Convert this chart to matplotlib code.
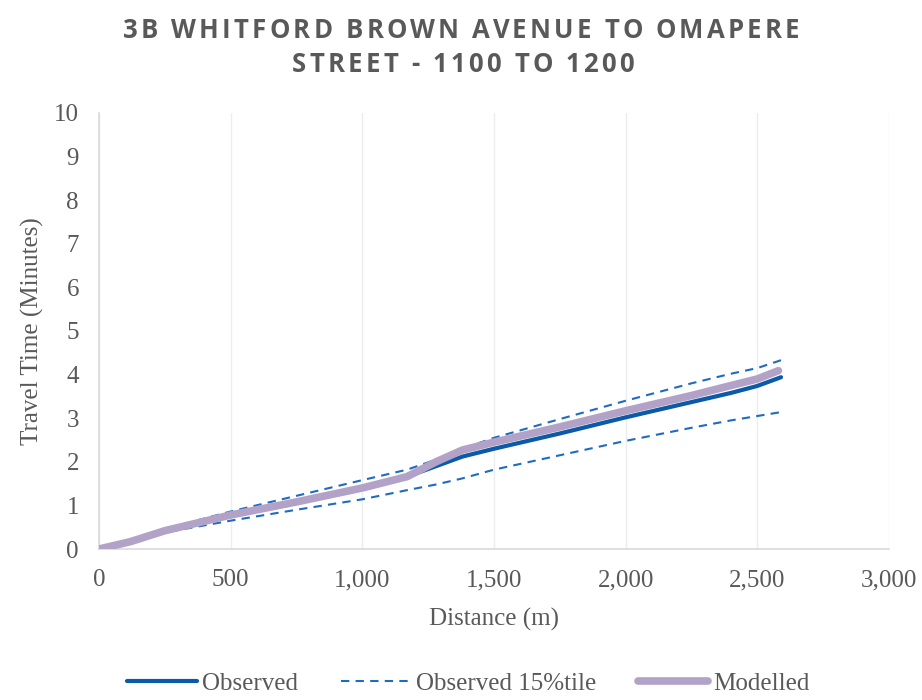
import matplotlib
matplotlib.use("Agg")
import matplotlib.pyplot as plt
from matplotlib.ticker import FuncFormatter
from matplotlib.font_manager import FontProperties

# Data
dist = [0, 120, 250, 500, 750, 1000, 1170, 1280, 1380, 1500, 1750, 2000, 2250, 2400, 2500, 2590]
observed = [0, 0.17, 0.42, 0.78, 1.08, 1.40, 1.66, 1.90, 2.12, 2.30, 2.65, 3.02, 3.37, 3.58, 3.74, 3.94]
obs15_upper = [0, 0.18, 0.46, 0.86, 1.22, 1.58, 1.82, 2.05, 2.30, 2.55, 2.98, 3.40, 3.80, 4.02, 4.15, 4.33]
obs15_lower = [0, 0.16, 0.38, 0.65, 0.90, 1.14, 1.35, 1.48, 1.62, 1.82, 2.15, 2.48, 2.78, 2.95, 3.05, 3.14]
dist_mod = [0, 120, 250, 500, 750, 1000, 1170, 1280, 1380, 1500, 1750, 2000, 2250, 2400, 2500, 2580]
modelled = [0, 0.17, 0.42, 0.78, 1.08, 1.40, 1.66, 2.00, 2.27, 2.45, 2.80, 3.17, 3.52, 3.75, 3.90, 4.09]

title_lines = ["3B WHITFORD BROWN AVENUE TO OMAPERE", "STREET - 1100 TO 1200"]
xlabel = "Distance (m)"
ylabel = "Travel Time (Minutes)"

W, H = 922, 700
fig = plt.figure(figsize=(W / 100, H / 100), dpi=100)
ax = fig.add_axes([0.1074, 0.2157, 0.8568, 0.6229])

serif = ["Liberation Serif", "DejaVu Serif"]
txtcol = "#595959"
fs = 18

ax.plot(dist, obs15_upper, color="#1F6BBF", lw=1.5, ls=(0, (4, 3)), zorder=3)
l2, = ax.plot(dist, obs15_lower, color="#1F6BBF", lw=1.5, ls=(0, (4, 3)), zorder=3, label="Observed 15%tile")
l1, = ax.plot(dist, observed, color="#0B5AA8", lw=3, solid_capstyle="round", zorder=4, label="Observed")
l3, = ax.plot(dist_mod, modelled, color="#B3A2C7", lw=5.5, solid_capstyle="round", zorder=5, label="Modelled")

ax.set_xlim(0, 3000)
ax.set_ylim(0, 10)
ax.set_xticks(range(0, 3001, 500))
ax.set_yticks(range(0, 11))
ax.xaxis.set_major_formatter(FuncFormatter(lambda v, p: f"{int(v):,}"))
ax.grid(axis="x", color="#EDEDED", lw=1)
ax.set_axisbelow(True)
for s in ["top", "right"]:
    ax.spines[s].set_visible(False)
for s in ["left", "bottom"]:
    ax.spines[s].set_color("#D9D9D9")
    ax.spines[s].set_linewidth(1.2)
ax.tick_params(length=0, labelsize=fs, labelcolor=txtcol)
ax.tick_params(axis="x", pad=14.5)
ax.tick_params(axis="y", pad=14.5)
for lab in ax.get_xticklabels() + ax.get_yticklabels():
    lab.set_family(serif)

ax.set_xlabel(xlabel, family=serif, fontsize=fs, color=txtcol, labelpad=12)
ax.set_ylabel(ylabel, family=serif, fontsize=fs, color=txtcol, labelpad=7)

# Letter-spaced title
fp = FontProperties(family=["Open Sans", "DejaVu Sans"], weight="bold", size=18.5)
renderer = fig.canvas.get_renderer()
spacing = 3.2  # px between characters


def text_w(s):
    if not s:
        return 0.0
    w1, _, _ = renderer.get_text_width_height_descent(s + "I", fp, ismath=False)
    w2, _, _ = renderer.get_text_width_height_descent("I", fp, ismath=False)
    return w1 - w2


for line, ypx, cx in zip(title_lines, [27, 62], [461, 463]):
    total = text_w(line) + spacing * (len(line) - 1)
    x0 = cx - total / 2
    for i, ch in enumerate(line):
        if ch == " ":
            continue
        xpx = x0 + text_w(line[:i]) + spacing * i
        fig.text(xpx / W, 1 - ypx / H, ch, ha="left", va="center_baseline",
                 fontproperties=fp, color=txtcol)

leg = fig.legend(handles=[l1, l2, l3], loc="center", bbox_to_anchor=(0.508, 0.023), ncol=3,
                 frameon=False, prop={"family": serif, "size": fs}, handlelength=2.8,
                 columnspacing=1.7, handletextpad=0.2)
for t in leg.get_texts():
    t.set_color(txtcol)

fig.savefig("out.png", dpi=100)
